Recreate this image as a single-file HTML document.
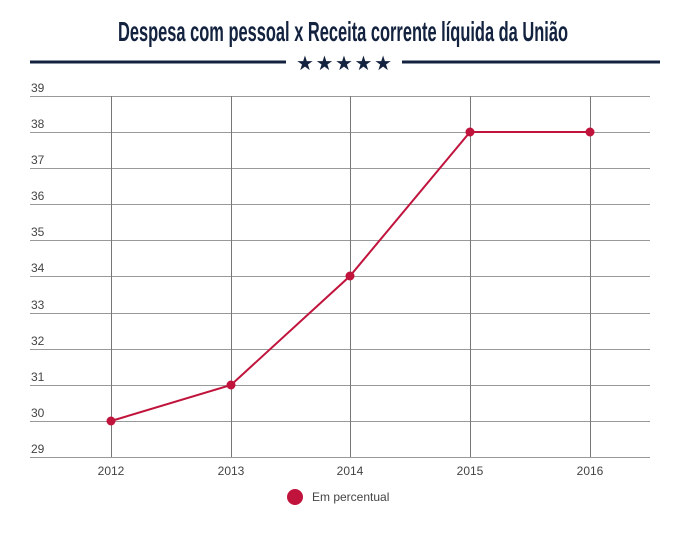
<!DOCTYPE html>
<html><head><meta charset="utf-8"><style>
body{margin:0;background:#fff;width:686px;height:532px;overflow:hidden}
</style></head><body>
<svg width="686" height="532" xmlns="http://www.w3.org/2000/svg" font-family="Liberation Sans, sans-serif">
<text x="343" y="41" text-anchor="middle" font-size="28" font-weight="bold" fill="#13223f" textLength="450" lengthAdjust="spacingAndGlyphs">Despesa com pessoal x Receita corrente líquida da União</text>
<rect x="30" y="60.5" width="256" height="3" fill="#13223f"/>
<rect x="402" y="60.5" width="258" height="3" fill="#13223f"/>
<text x="344" y="70" text-anchor="middle" font-size="20" fill="#13223f" textLength="96" lengthAdjust="spacing">★★★★★</text>
<g stroke="#999" stroke-width="1">
<line x1="30" x2="650" y1="96.5" y2="96.5"/><line x1="30" x2="650" y1="132.5" y2="132.5"/>
<line x1="30" x2="650" y1="168.5" y2="168.5"/><line x1="30" x2="650" y1="204.5" y2="204.5"/>
<line x1="30" x2="650" y1="240.5" y2="240.5"/><line x1="30" x2="650" y1="276.5" y2="276.5"/>
<line x1="30" x2="650" y1="313.5" y2="313.5"/><line x1="30" x2="650" y1="349.5" y2="349.5"/>
<line x1="30" x2="650" y1="385.5" y2="385.5"/><line x1="30" x2="650" y1="421.5" y2="421.5"/>
<line x1="30" x2="650" y1="457.5" y2="457.5"/>
</g>
<g stroke="#777" stroke-width="1">
<line x1="111.5" x2="111.5" y1="96" y2="457"/><line x1="231.5" x2="231.5" y1="96" y2="457"/>
<line x1="350.5" x2="350.5" y1="96" y2="457"/><line x1="470.5" x2="470.5" y1="96" y2="457"/>
<line x1="590.5" x2="590.5" y1="96" y2="457"/>
</g>
<g font-size="12" fill="#444">
<text x="31" y="92">39</text><text x="31" y="128">38</text><text x="31" y="164">37</text>
<text x="31" y="200">36</text><text x="31" y="236">35</text><text x="31" y="272">34</text>
<text x="31" y="309">33</text><text x="31" y="345">32</text><text x="31" y="381">31</text>
<text x="31" y="417">30</text><text x="31" y="453">29</text>
</g>
<g font-size="12" fill="#444" text-anchor="middle">
<text x="111" y="475">2012</text><text x="231" y="475">2013</text><text x="350" y="475">2014</text>
<text x="470" y="475">2015</text><text x="590" y="475">2016</text>
</g>
<polyline points="111,421 231,385 350,276 470,132 590,132" fill="none" stroke="#c0143c" stroke-width="2"/>
<g fill="#c0143c">
<circle cx="111" cy="421" r="4.5"/><circle cx="231" cy="385" r="4.5"/><circle cx="350" cy="276" r="4.5"/>
<circle cx="470" cy="132" r="4.5"/><circle cx="590" cy="132" r="4.5"/>
<circle cx="295" cy="497" r="8"/>
</g>
<text x="312" y="501" font-size="12" fill="#444">Em percentual</text>
</svg>
</body></html>
